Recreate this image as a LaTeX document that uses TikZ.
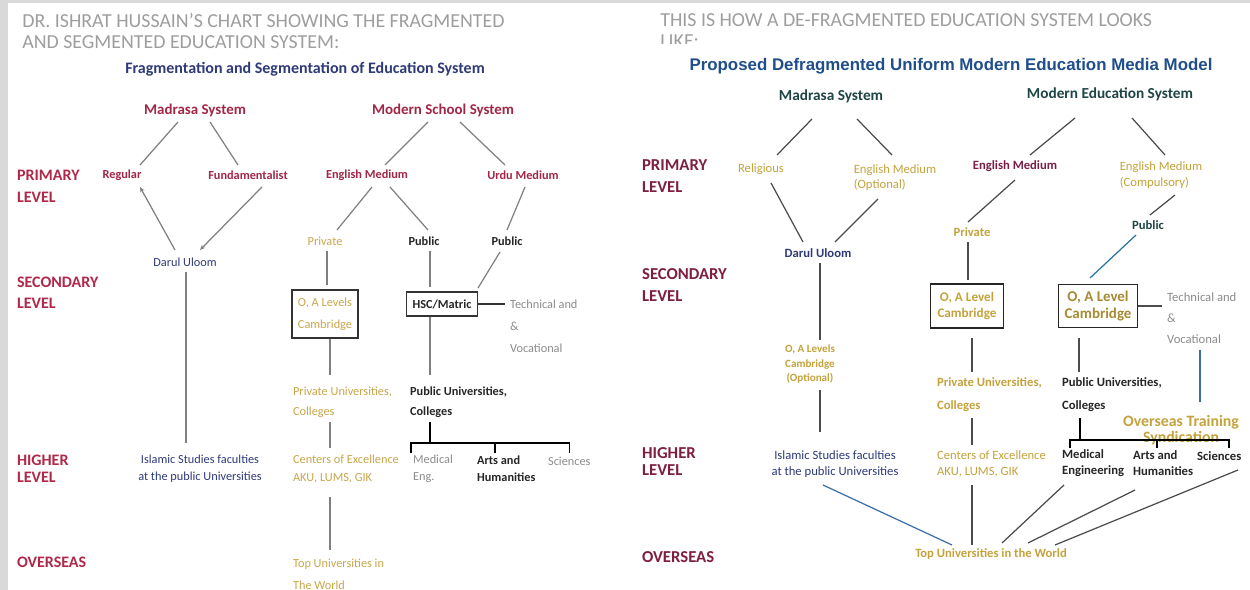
\documentclass[tikz,border=0pt]{standalone}
\usepackage{fontspec}
\setmainfont{Carlito}
\newfontfamily\arialfont{Liberation Sans}
\usepackage{xcolor}
\usetikzlibrary{calc,arrows.meta}
\definecolor{bggray}{HTML}{D9D9D9}
\definecolor{hdrgray}{HTML}{9E9E9E}
\definecolor{lvlredL}{HTML}{B0284A}
\definecolor{lvlredR}{HTML}{7E1F3E}
\definecolor{redL}{HTML}{A32646}
\definecolor{redR}{HTML}{7A1E48}
\definecolor{goldL}{HTML}{C8A64A}
\definecolor{goldR}{HTML}{C4A33C}
\definecolor{navy}{HTML}{2F3A78}
\definecolor{darktxt}{HTML}{262626}
\definecolor{graytxt}{HTML}{8C8C8C}
\definecolor{tealR}{HTML}{1F4545}
\definecolor{titblue}{HTML}{1F4E8A}
\definecolor{lnblue}{HTML}{3C6FA8}
\tikzset{
    page-header/.style = {anchor=west, inner sep=0pt, align=left, text=hdrgray, font=\fontsize{11.3}{12}\selectfont},
    level-left/.style = {anchor=west, inner sep=1pt, align=left, text=lvlredL, font=\bfseries\fontsize{9.1}{#1}\selectfont},
    level-left/.default = 12.5,
    level-right/.style = {anchor=west, inner sep=1pt, align=left, text=lvlredR, font=\bfseries\fontsize{9.5}{#1}\selectfont},
    level-right/.default = 12.5,
    small-left/.style = {inner sep=1pt, align=left, font=\fontsize{7}{#1}\selectfont},
    small-left/.default = 11,
    small-right/.style = {inner sep=1pt, align=left, font=\fontsize{7.2}{#1}\selectfont},
    small-right/.default = 11,
    bold-left/.style = {small-left=#1, font=\bfseries\fontsize{7}{#1}\selectfont},
    bold-left/.default = 11,
    bold-right/.style = {small-right=#1, font=\bfseries\fontsize{7.2}{#1}\selectfont},
    bold-right/.default = 11,
    box-left/.style = {draw=black!80, line width=0.7pt},
    box-right/.style = {draw=black!85, line width=0.9pt},
    link-left/.style = {draw=black!50, line width=0.7pt},
    link-right/.style = {draw=black!70, line width=0.7pt},
}
\begin{document}
\begin{tikzpicture}[x=0.02cm, y=-0.02cm]
\fill[bggray] (0,0) rectangle (1250,590);
\fill[white] (8,3) rectangle (1250,590);
\useasboundingbox (0,0) rectangle (1250,590);

% fragmented system
\node[page-header] (hdrL) at (22,31) {DR. ISHRAT HUSSAIN’S CHART SHOWING THE FRAGMENTED\\AND SEGMENTED EDUCATION SYSTEM:};
\node[inner sep=1pt, text=navy, font=\bfseries\fontsize{9.1}{10}\selectfont] (subL) at (305,69) {Fragmentation and Segmentation of Education System};
\node[inner sep=1pt, text=redL, font=\bfseries\fontsize{8.5}{10}\selectfont] (madL) at (195,110) {Madrasa System};
\node[inner sep=1pt, text=redL, font=\bfseries\fontsize{8.5}{10}\selectfont] (modL) at (443,110) {Modern School System};

\node[level-left] (priL) at (15,186) {PRIMARY\\LEVEL};
\node[level-left=12] (secL) at (15,293) {SECONDARY\\LEVEL};
\node[level-left=9.7] (higL) at (15,469) {HIGHER\\LEVEL};
\node[level-left] (ovsL) at (15,562) {OVERSEAS};

\node[bold-left, text=redL] (regL) at (122,175) {Regular};
\node[bold-left, text=redL] (funL) at (248,175) {Fundamentalist};
\node[bold-left, text=redL] (engL) at (367,175) {English Medium};
\node[bold-left, text=redL] (urdL) at (523,175) {Urdu Medium};
\node[small-left, text=goldL] (privL) at (325,241) {Private};
\node[bold-left, text=darktxt] (pubL1) at (424,241) {Public};
\node[bold-left, text=darktxt] (pubL2) at (507,241) {Public};
\node[small-left, text=navy] (darL) at (185,262) {Darul Uloom};
\node[small-left=12.5, box-left, text=goldL, align=center, minimum width=1.32cm, minimum height=0.96cm] (boxL1) at (325,314) {O, A Levels\\Cambridge};
\node[bold-left, box-left, text=darktxt, minimum width=1.42cm, minimum height=0.48cm] (boxL2) at (442,304) {HSC/Matric};
\node[small-left=12.5, text=graytxt, anchor=west] (techL) at (508,326) {Technical and\\\&\\Vocational};
\node[small-left=11.4, text=goldL, anchor=west] (pvuL) at (291,402) {Private Universities,\\Colleges};
\node[bold-left=11.4, text=darktxt, anchor=west] (pbuL) at (408,402) {Public Universities,\\Colleges};
\node[small-left=9.7, text=navy, align=center] (islL) at (200,469) {Islamic Studies faculties\\at the public Universities};
\node[small-left=9.7, text=goldL, anchor=west] (cenL) at (291,469) {Centers of Excellence\\AKU, LUMS, GIK};
\node[small-left=9.7, text=graytxt, anchor=west] (medL) at (411,469) {Medical\\Eng.};
\node[bold-left=9.7, text=darktxt, anchor=west] (artL) at (475,469) {Arts and\\Humanities};
\node[small-left, text=graytxt, anchor=west] (sciL) at (546,461) {Sciences};
\node[small-left=12.5, text=goldL, anchor=west] (topL) at (291,574) {Top Universities in\\The World};

\draw[link-left] ($(madL)+(-17,12)$) -- ($(regL)+(18,-10)$);
\draw[link-left] ($(madL)+(15,12)$) -- ($(funL)+(-10,-10)$);
\draw[link-left] ($(modL)+(-15,12)$) -- ($(engL)+(18,-10)$);
\draw[link-left] ($(modL)+(17,12)$) -- ($(urdL)+(-18,-10)$);
\draw[link-left, -{Stealth[length=3pt, width=2.5pt]}] ($(darL)+(-10,-12)$) -- ($(regL)+(18,12)$);
\draw[link-left, -{Stealth[length=3pt, width=2.5pt]}] ($(funL)+(14,12)$) -- ($(darL)+(15,-12)$);
\draw[link-left] ($(engL)+(5,12)$) -- ($(privL)+(12,-11)$);
\draw[link-left] ($(engL)+(23,12)$) -- ($(pubL1)+(4,-11)$);
\draw[link-left] ($(urdL)+(2,12)$) -- ($(pubL2)+(0,-11)$);
\draw[link-left, line width=1pt] ($(privL)+(2,10)$) -- ($(boxL1.north)+(2,-4)$);
\draw[link-left] ($(pubL1.south)+(6,4)$) -- ($(boxL2.north)+(-12,-4)$);
\draw[link-left] ($(pubL2)+(-7,11)$) -- ($(boxL2)+(36,-16)$);
\draw[link-left, draw=black!80] (boxL2.east) -- ($(techL.west)+(-3,-22)$);
\draw[link-left] ($(darL)+(1,10)$) -- ($(islL)+(-14,-26)$);
\draw[link-left] ($(boxL1.south)+(5,0)$) -- ($(pvuL.west)+(39,-27)$);
\draw[link-left] ($(boxL2.south)+(-12,0)$) -- ($(pvuL.west)+(139,-27)$);
\draw[link-left] ($(pvuL.west)+(39,20)$) -- ($(cenL.west)+(39,-21)$);
\draw[link-left, draw=black] ($(pbuL.west)+(22,20)$) -- ($(artL.west)+(-45,-26)$);
\draw[link-left, draw=black] ($(medL.west)+(0,-16)$) -- ++(0,-10) -| ($(sciL.north)+(0,-2)$);
\draw[link-left, draw=black, line width=1.2pt] ($(artL.west)+(20,-16)$) -- ++(0,-10);
\draw[link-left] ($(cenL.west)+(39,28)$) -- ($(topL.west)+(39,-24)$);

% defragmented system
\begin{scope}
\clip (640,5) rectangle (1250,44);
\node[page-header] (hdrR) at (660,31) {THIS IS HOW A DE-FRAGMENTED EDUCATION SYSTEM LOOKS\\LIKE:};
\end{scope}
\node[inner sep=1pt, text=titblue, font=\arialfont\bfseries\fontsize{9.6}{11}\selectfont] (titR) at (951,66) {Proposed Defragmented Uniform Modern Education Media Model};
\node[inner sep=1pt, text=tealR, font=\bfseries\fontsize{8.7}{10}\selectfont] (madR) at (831,96) {Madrasa System};
\node[inner sep=1pt, text=tealR, font=\bfseries\fontsize{8.7}{10}\selectfont] (modR) at (1110,94) {Modern Education System};

\node[level-right] (priR) at (640,176) {PRIMARY\\LEVEL};
\node[level-right] (secR) at (640,285) {SECONDARY\\LEVEL};
\node[level-right=9.7] (higR) at (640,462) {HIGHER\\LEVEL};
\node[level-right] (ovsR) at (640,557) {OVERSEAS};

\node[small-right, text=goldR] (relR) at (761,169) {Religious};
\node[small-right=8.6, text=goldR] (emoR) at (895,178) {English Medium\\(Optional)};
\node[bold-right, text=redR] (engR) at (1015,166) {English Medium};
\node[small-right=9, text=goldR] (emcR) at (1161,175) {English Medium\\(Compulsory)};
\node[bold-right, text=navy] (darR) at (818,253) {Darul Uloom};
\node[bold-right, text=goldR] (prvR) at (972,232) {Private};
\node[bold-right, text=tealR] (pubR) at (1148,225) {Public};
\node[box-right, inner sep=1pt, align=center, text=goldR, font=\bfseries\fontsize{7.5}{9}\selectfont, minimum width=1.46cm, minimum height=0.88cm] (boxR1) at (967,306) {O, A Level\\Cambridge};
\node[box-right, inner sep=1pt, align=center, text=goldR!85!black, font=\bfseries\fontsize{8.5}{9.7}\selectfont, minimum width=1.58cm, minimum height=0.86cm] (boxR2) at (1098,306) {O, A Level\\Cambridge};
\node[small-right=12, text=graytxt, anchor=west] (techR) at (1165,318) {Technical and\\\&\\Vocational};
\node[inner sep=1pt, text=goldR, align=center, font=\bfseries\fontsize{6.3}{8}\selectfont] (oalR) at (810,364) {O, A Levels\\Cambridge\\(Optional)};
\node[small-right=9, text=navy, align=center] (islR) at (835,464) {Islamic Studies faculties\\at the public Universities};
\node[bold-right=13, text=goldR, anchor=west] (pvuR) at (935,395) {Private Universities,\\Colleges};
\node[bold-right=13, text=darktxt, anchor=west] (pbuR) at (1060,395) {Public Universities,\\Colleges};
\node[inner sep=1pt, align=center, text=goldR, font=\bfseries\fontsize{9}{9}\selectfont] (otsR) at (1181,430) {Overseas Training\\Syndication};
\node[small-right=9, text=goldR, anchor=west] (cenR) at (935,464) {Centers of Excellence\\AKU, LUMS, GIK};
\node[bold-right=9, text=darktxt, anchor=west] (medR) at (1060,463) {Medical\\Engineering};
\node[bold-right=9, text=darktxt, anchor=west] (artR) at (1131,463) {Arts and\\Humanities};
\node[bold-right, text=darktxt, anchor=west] (sciR) at (1195,456) {Sciences};
\node[bold-right, text=goldR] (topR) at (991,554) {Top Universities in the World};

\draw[link-right] ($(madR)+(-19,23)$) -- ($(relR)+(16,-14)$);
\draw[link-right] ($(madR)+(26,23)$) -- ($(emoR)+(-3,-23)$);
\draw[link-right] ($(modR)+(-35,24)$) -- ($(engR)+(15,-11)$);
\draw[link-right] ($(modR)+(22,24)$) -- ($(emcR)+(4,-20)$);
\draw[link-right] ($(relR)+(10,14)$) -- ($(darR)+(-15,-11)$);
\draw[link-right] ($(emoR)+(-17,21)$) -- ($(darR)+(17,-11)$);
\draw[link-right] ($(engR)+(0,14)$) -- ($(prvR)+(-4,-10)$);
\draw[link-right] ($(emcR)+(14,20)$) -- ($(pubR)+(2,-10)$);
\draw[link-right, draw=lnblue!70!teal] ($(pubR)+(-12,10)$) -- ($(boxR2)+(-8,-28)$);
\draw[link-right] ($(prvR)+(-4,10)$) -- ($(boxR1)+(1,-26)$);
\draw[link-right] (boxR2.east) -- ($(techR.west)+(-3,-12)$);
\draw[link-right, draw=lnblue] ($(techR.west)+(35,32)$) -- ($(otsR)+(19,-28)$);
\draw[link-right] ($(darR)+(2,10)$) -- ($(oalR)+(10,-24)$);
\draw[link-right] ($(oalR)+(10,26)$) -- ($(islR)+(-15,-32)$);
\draw[link-right] ($(boxR1)+(5,32)$) -- ($(pvuR.west)+(37,-23)$);
\draw[link-right] ($(boxR2)+(-19,32)$) -- ($(pbuR.west)+(19,-23)$);
\draw[link-right] ($(pvuR.west)+(37,23)$) -- ($(cenR.west)+(37,-19)$);
\draw[link-right, draw=black] ($(pbuR.west)+(20,23)$) -- ($(artR.west)+(-51,-23)$);
\draw[link-right, draw=black] ($(medR.west)+(10,-15)$) -- ++(0,-8) -| ($(sciR.west)+(34,-8)$);
\draw[link-right, draw=black] ($(artR.west)+(26,-15)$) -- ++(0,-8);
\draw[link-right, draw=lnblue] ($(islR)+(-12,21)$) -- ($(topR)+(-39,-9)$);
\draw[link-right] ($(cenR.west)+(37,21)$) -- ($(topR)+(-19,-9)$);
\draw[link-right] ($(medR.west)+(4,22)$) -- ($(topR)+(11,-11)$);
\draw[link-right] ($(artR.west)+(4,27)$) -- ($(topR)+(37,-11)$);
\draw[link-right] ($(sciR.west)+(43,14)$) -- ($(topR)+(64,-9)$);
\end{tikzpicture}
\end{document}
